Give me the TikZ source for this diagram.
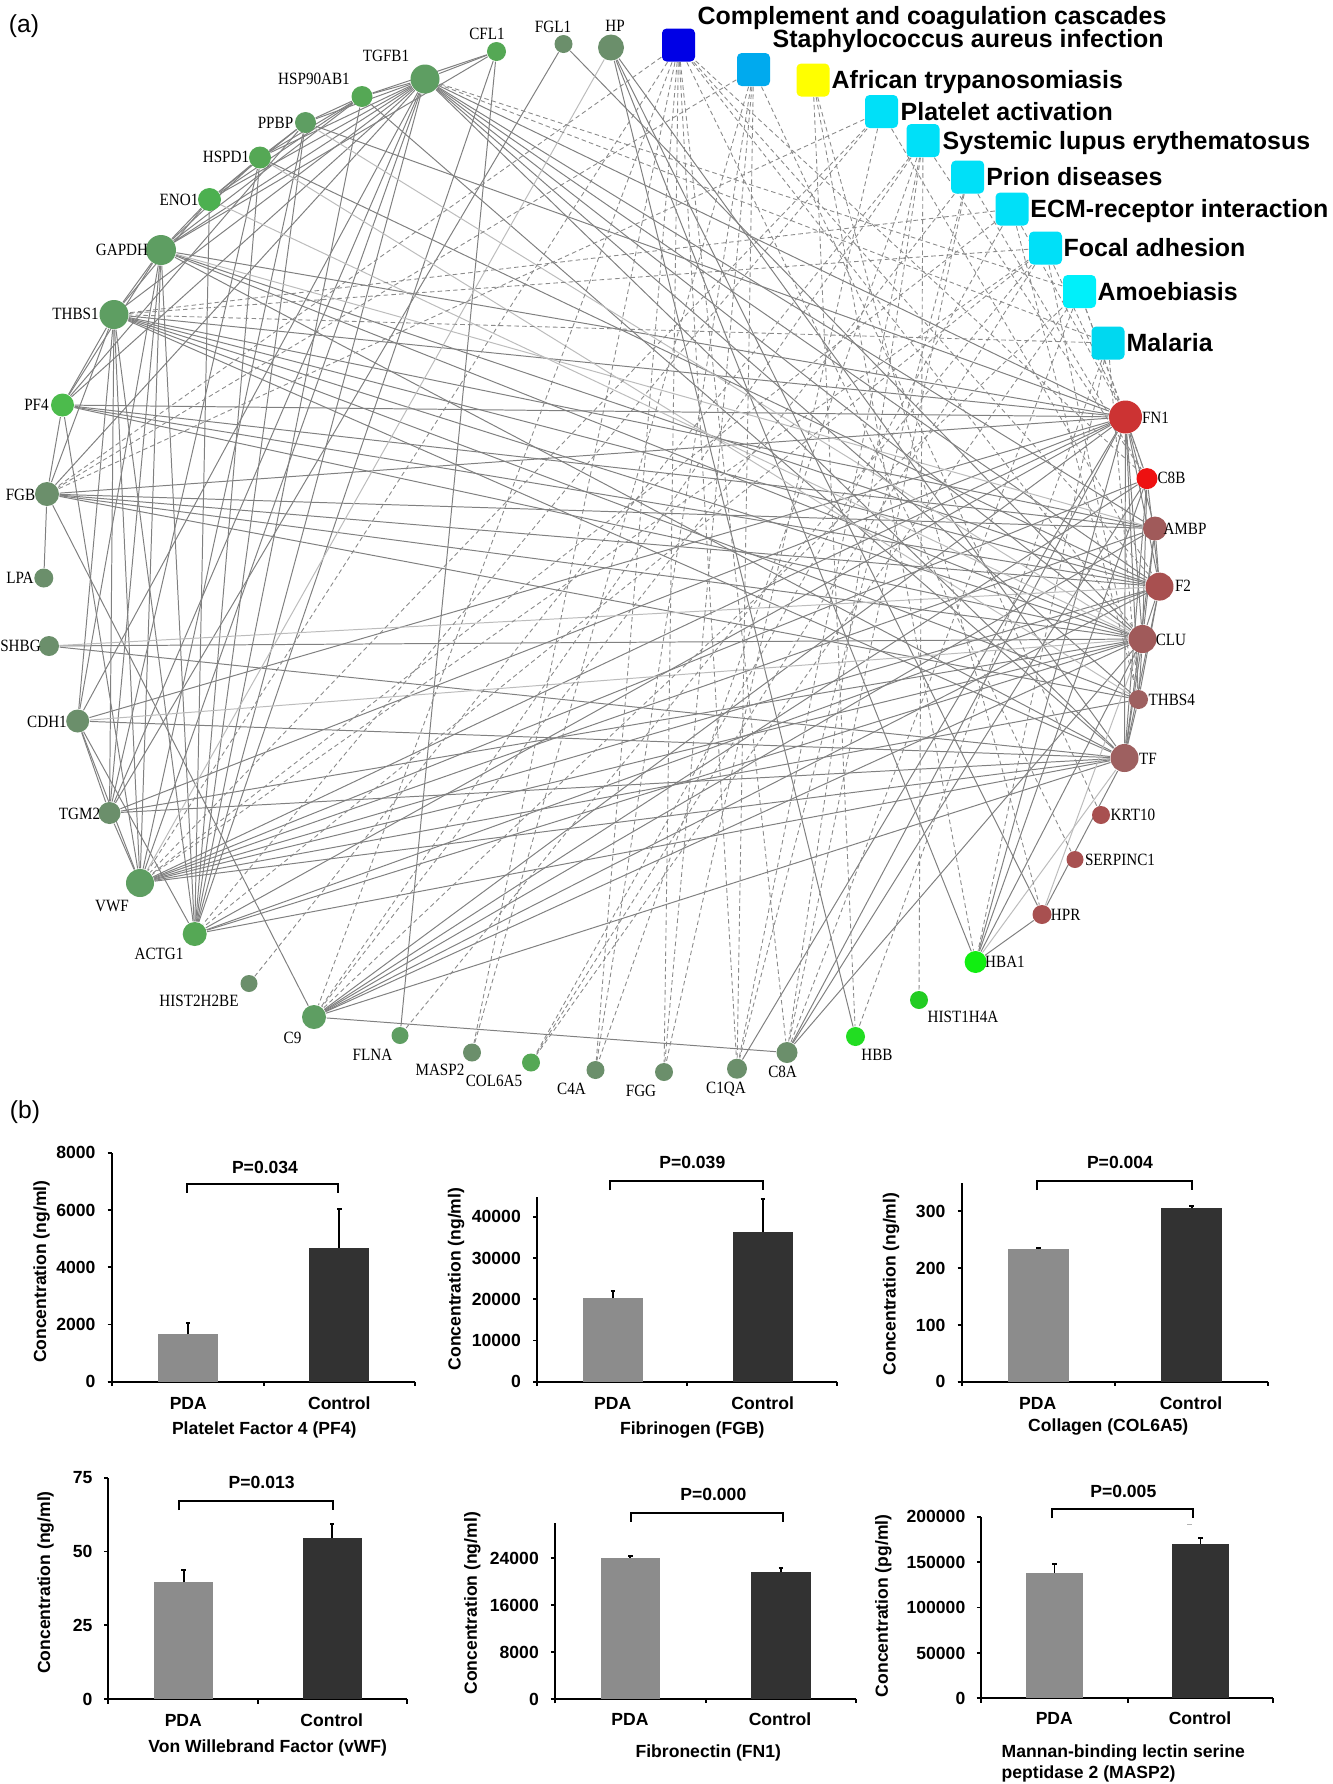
\documentclass[tikz,border=0pt]{standalone}
\usepackage{graphicx}
\usepackage{fontspec}
\setmainfont{Liberation Serif}
\newfontfamily\lsans{Liberation Sans}
\usetikzlibrary{backgrounds}
\definecolor{edgeC}{RGB}{128,128,128}
\definecolor{edgeL}{RGB}{188,188,188}
\definecolor{dashC}{RGB}{138,138,138}
\definecolor{gA}{RGB}{85,168,85}
\definecolor{gB}{RGB}{94,158,98}
\definecolor{gC}{RGB}{107,143,107}
\definecolor{gD}{RGB}{76,176,80}
\definecolor{gE}{RGB}{76,187,76}
\definecolor{gF}{RGB}{34,221,34}
\definecolor{gG}{RGB}{17,238,17}
\definecolor{gH}{RGB}{34,204,34}
\definecolor{rA}{RGB}{204,51,51}
\definecolor{rB}{RGB}{238,17,17}
\definecolor{rC}{RGB}{160,90,90}
\definecolor{rD}{RGB}{168,80,80}
\definecolor{rE}{RGB}{158,96,96}
\definecolor{pDark}{RGB}{0,0,230}
\definecolor{pMid}{RGB}{0,170,238}
\definecolor{pYel}{RGB}{255,255,0}
\definecolor{pCy}{RGB}{0,224,248}
\definecolor{pCy2}{RGB}{0,240,250}
\definecolor{pCy3}{RGB}{0,216,240}
\definecolor{pdaC}{RGB}{140,140,140}
\definecolor{ctlC}{RGB}{50,50,50}
\tikzset{
  gnode/.style={circle, inner sep=0pt, draw=none},
  glabel/.style={inner sep=0pt, anchor=base, font=\fontsize{4.9pt}{5pt}\selectfont},
  pw/.style={rectangle, rounded corners=1.3pt, inner sep=0pt, minimum size=3.3mm, draw=none},
  pwlabel/.style={inner sep=0pt, anchor=base west, font=\lsans\bfseries\fontsize{7.1pt}{8pt}\selectfont},
  ppi/.style={draw=edgeC, line width=0.28pt},
  ppil/.style={draw=edgeL, line width=0.28pt},
  pwedge/.style={draw=dashC, line width=0.25pt, dash pattern=on 1.3pt off 0.9pt},
  axl/.style={line width=0.55pt, black},
  errb/.style={line width=0.55pt, black},
  brk/.style={line width=0.55pt, black},
  ctext/.style={inner sep=0pt, anchor=base, font=\lsans\bfseries\fontsize{5pt}{6pt}\selectfont},
  ylab/.style={inner sep=0pt, rotate=90, font=\lsans\bfseries\fontsize{5pt}{6pt}\selectfont},
  panel/.style={inner sep=0pt, font=\lsans\fontsize{7pt}{8pt}\selectfont},
  pdaf/.style={fill=pdaC},
  ctlf/.style={fill=ctlC},
}
\newcommand\cbar[6]{\fill[#6] (#1,#3) rectangle (#2,#4);
  \draw[errb] ({(#1+#2)/2},#4) -- ({(#1+#2)/2},#5) ({(#1+#2)/2-2.2},#5) -- ({(#1+#2)/2+2.2},#5);}
\newcommand\caxes[6]{\draw[axl] (#2,#5) -- (#4,#5);
  \draw[axl] (#1,{#5+4.3}) -- (#1,#6);
  \draw[axl] (#3,#5) -- (#3,{#5+4.3}) (#4,#5) -- (#4,{#5+4.3});}
\newcommand\cbrk[4]{\draw[brk] (#1,#4) -- (#1,#3) -- (#2,#3) -- (#2,#4);}
\begin{document}
\begin{tikzpicture}[x=0.1mm, y=-0.1mm]
\useasboundingbox (0,0) rectangle (1333,1784);

% ---------- gene nodes ----------
\foreach \n/\x/\y/\d/\c in {
CFL1/496.5/51.5/19/gA, FGL1/563.5/44/18/gC, HP/611/47.5/26/gC, TGFB1/425/79/29/gB,
HSP90AB1/362/96.5/21/gA, PPBP/305.5/122.5/21/gB, HSPD1/260/157.5/22/gA, ENO1/209.5/199.5/23/gD,
GAPDH/161/250/30/gB, THBS1/114/314.5/29/gB, PF4/62.5/405/23/gE, FGB/47/494/24/gC,
LPA/43.8/578/19/gC, SHBG/49/646/20/gC, CDH1/77.7/721/23/gC, TGM2/109.5/813/22/gC,
VWF/140/883/28/gB, ACTG1/194.7/934/24/gA, HIST2H2BE/249/983.5/17/gC, C9/314/1017/24/gB,
FLNA/400/1035.5/17/gB, MASP2/472/1052.5/18/gC, COL6A5/531/1062.5/18/gA, C4A/595.5/1070/18/gC,
FGG/664/1072/18/gC, C1QA/737/1068.7/20/gC, C8A/787/1052.5/21/gC, HBB/855.5/1036.5/19/gF,
HIST1H4A/919/1000/18/gH, HBA1/975.6/962/22/gG, HPR/1042/914.5/19/rD, SERPINC1/1075/859.5/17/rD,
KRT10/1101/815/18/rD, TF/1124.5/758/28/rE, THBS4/1138.5/699.5/19/rE, CLU/1142.5/639/28/rC,
F2/1159.5/586.6/28/rD, AMBP/1155/528.5/24/rC, C8B/1147/478.6/21/rB, FN1/1125.5/417/33/rA}
  \node[gnode, fill=\c, minimum size=\d*0.1mm] (\n) at (\x,\y) {};

% ---------- gene labels ----------
\foreach \n/\x/\y in {
CFL1/487/34, FGL1/553/27, HP/615/26, TGFB1/386/56, HSP90AB1/314/79, PPBP/275.5/123,
HSPD1/226/157, ENO1/179/200, GAPDH/122/250, THBS1/75.5/314, PF4/36.5/405, FGB/20.5/495,
LPA/20/578, SHBG/20.5/646, CDH1/47/722, TGM2/79.5/814, VWF/112/905.7, ACTG1/159/954,
HIST2H2BE/199/1000.7, C9/292.5/1038, FLNA/372.5/1055, MASP2/440/1070, COL6A5/494/1081,
C4A/571.5/1089, FGG/641/1091, C1QA/726/1088, C8A/782.6/1072, HBB/877/1055,
HIST1H4A/963/1016.7, HBA1/1005/961.7, HPR/1065.7/914.4, SERPINC1/1120/860, KRT10/1133/815,
TF/1148/758.6, THBS4/1171.7/699.6, CLU/1171/640, F2/1183/586, AMBP/1185/528.7,
C8B/1171.5/478, FN1/1155.5/418}
  \node[glabel] (l\n) at (\x,{\y+5.7}) {\scalebox{0.88}[1]{\n}};

% ---------- pathway nodes ----------
\node[pw, fill=pDark] (pCCC) at (678.5,45) {};
\node[pw, fill=pMid]  (pSTA) at (753.5,69.5) {};
\node[pw, fill=pYel]  (pAFR) at (813,80) {};
\node[pw, fill=pCy]   (pPLT) at (881.5,111.5) {};
\node[pw, fill=pCy]   (pSLE) at (923,140.5) {};
\node[pw, fill=pCy]   (pPRI) at (967.7,177) {};
\node[pw, fill=pCy]   (pECM) at (1012,209) {};
\node[pw, fill=pCy]   (pFOC) at (1045.5,248) {};
\node[pw, fill=pCy2]  (pAMO) at (1079.5,291.5) {};
\node[pw, fill=pCy3]  (pMAL) at (1108,343) {};

\node[pwlabel] (tCCC) at (697,24.4) {Complement and coagulation cascades};
\node[pwlabel] (tSTA) at (772,47.4) {Staphylococcus aureus infection};
\node[pwlabel] (tAFR) at (831,88.9) {African trypanosomiasis};
\node[pwlabel] (tPLT) at (900,120.4) {Platelet activation};
\node[pwlabel] (tSLE) at (942,149.4) {Systemic lupus erythematosus};
\node[pwlabel] (tPRI) at (985.6,185.9) {Prion diseases};
\node[pwlabel] (tECM) at (1029.7,217.9) {ECM-receptor interaction};
\node[pwlabel] (tFOC) at (1063,256.9) {Focal adhesion};
\node[pwlabel] (tAMO) at (1097,300.4) {Amoebiasis};
\node[pwlabel] (tMAL) at (1126,351.9) {Malaria};

% ---------- edges ----------
\begin{scope}[on background layer]
\fill[white] (0,0) rectangle (1333,1784);
\foreach \a/\b in {
TGFB1/CFL1, TGFB1/HSP90AB1, TGFB1/PPBP, TGFB1/HSPD1, TGFB1/ENO1, TGFB1/GAPDH, TGFB1/THBS1,
TGFB1/PF4, TGFB1/FN1, TGFB1/F2, TGFB1/CLU, TGFB1/TF, TGFB1/VWF, TGFB1/ACTG1, TGFB1/TGM2,
TGFB1/CDH1, TGFB1/THBS4, TGFB1/AMBP, TGFB1/FGB,
CFL1/HSP90AB1, CFL1/GAPDH, CFL1/FLNA, CFL1/ACTG1,
FGL1/TGM2, FGL1/CLU,
HP/HBA1, HP/HBB, HP/HPR, HP/TF,
HSP90AB1/PPBP, HSP90AB1/HSPD1, HSP90AB1/ENO1, HSP90AB1/GAPDH, HSP90AB1/ACTG1, HSP90AB1/TF,
PPBP/PF4, PPBP/FN1, PPBP/VWF, PPBP/HSPD1, PPBP/ENO1, PPBP/ACTG1,
HSPD1/ENO1, HSPD1/GAPDH, HSPD1/F2, HSPD1/ACTG1, HSPD1/TGM2,
ENO1/GAPDH, ENO1/ACTG1, ENO1/THBS1,
GAPDH/THBS1, GAPDH/VWF, GAPDH/ACTG1, GAPDH/TGM2, GAPDH/FN1, GAPDH/F2, GAPDH/CLU, GAPDH/TF,
GAPDH/PF4, GAPDH/CDH1,
THBS1/PF4, THBS1/FGB, THBS1/VWF, THBS1/TGM2, THBS1/ACTG1, THBS1/FN1, THBS1/F2, THBS1/CLU,
THBS1/TF, THBS1/AMBP, THBS1/THBS4, THBS1/CDH1,
PF4/FGB, PF4/FN1, PF4/F2, PF4/CLU, PF4/VWF, PF4/AMBP,
FGB/LPA, FGB/F2, FGB/FN1, FGB/CLU, FGB/AMBP, FGB/C9, FGB/THBS4,
SHBG/CLU, SHBG/TF,
CDH1/TGM2, CDH1/VWF, CDH1/ACTG1, CDH1/TF, CDH1/FN1,
TGM2/FN1, TGM2/CLU, TGM2/TF, TGM2/VWF,
VWF/FN1, VWF/F2, VWF/CLU, VWF/TF, VWF/THBS4, VWF/AMBP, VWF/C8B,
ACTG1/FN1, ACTG1/CLU, ACTG1/TF, ACTG1/F2,
C9/C8A, C9/FN1, C9/F2, C9/CLU, C9/TF, C9/C8B, C9/AMBP,
C8A/FN1, C8A/C8B, C8A/CLU, C1QA/FN1,
FN1/C8B, FN1/AMBP, FN1/F2, FN1/CLU, FN1/THBS4, FN1/TF, FN1/HBA1,
C8B/CLU, C8B/F2, C8B/TF, C8B/HBA1,
AMBP/F2, AMBP/CLU, AMBP/TF, F2/CLU, F2/TF, F2/THBS4,
CLU/TF, CLU/THBS4, CLU/HBA1, THBS4/TF, TF/HPR, HBA1/HPR}
  \draw[ppi] (\a) -- (\b);
\foreach \a/\b in {HP/VWF, ENO1/CLU, GAPDH/AMBP, SHBG/F2, CDH1/CLU, CLU/HPR, TF/HBA1,
PPBP/CLU, HSPD1/THBS4}
  \draw[ppil] (\a) -- (\b);
\foreach \a/\b in {
pCCC/FGB, pCCC/FGG, pCCC/VWF, pCCC/F2, pCCC/SERPINC1, pCCC/C9, pCCC/MASP2, pCCC/C4A,
pCCC/C1QA, pCCC/C8A, pCCC/C8B, pCCC/CLU,
pSTA/FGG, pSTA/FGB, pSTA/C4A, pSTA/C1QA, pSTA/MASP2, pSTA/KRT10,
pAFR/HBB, pAFR/HBA1, pAFR/HPR,
pPLT/FGB, pPLT/FGG, pPLT/VWF, pPLT/F2, pPLT/ACTG1,
pSLE/HIST2H2BE, pSLE/HIST1H4A, pSLE/C4A, pSLE/C1QA, pSLE/C8A, pSLE/C8B, pSLE/C9,
pPRI/C1QA, pPRI/C8A, pPRI/C8B, pPRI/C9,
pECM/FN1, pECM/THBS1, pECM/THBS4, pECM/VWF, pECM/COL6A5,
pFOC/FN1, pFOC/THBS1, pFOC/THBS4, pFOC/VWF, pFOC/COL6A5, pFOC/ACTG1, pFOC/FLNA,
pAMO/FN1, pAMO/COL6A5, pAMO/TGFB1, pAMO/C8A, pAMO/C8B, pAMO/C9,
pMAL/THBS1, pMAL/THBS4, pMAL/TGFB1, pMAL/HBB, pMAL/HBA1}
  \draw[pwedge] (\a) -- (\b);
\end{scope}

% ---------- panel letters ----------
\node[panel] (panA) at (24,26) {(a)};
\node[panel] (panB) at (25,1112) {(b)};

% ---------- chart 1: PF4 ----------
\caxes{111.7}{107.5}{264}{415}{1381.7}{1152.7}
\foreach \v/\yy in {0/1381.7,2000/1324.45,4000/1267.2,6000/1209.95,8000/1152.7}{
  \draw[axl] (107.5,\yy) -- (111.7,\yy);
  \node[ctext, anchor=base east] (aY\v) at (96.2,{\yy+6.2}) {\v};}
\cbar{157.7}{218.3}{1381.7}{1334.3}{1322.7}{pdaf}
\cbar{309.3}{369.3}{1381.7}{1247.7}{1209.3}{ctlf}
\cbrk{186.7}{338.3}{1184}{1192.7}
\node[ctext] (aP) at (265,1173) {P=0.034};
\node[ctext] (aPDA) at (188.3,1409.6) {PDA};
\node[ctext] (aCtl) at (339.3,1409.6) {Control};
\node[ctext] (aT) at (264.3,1434.6) {Platelet Factor 4 (PF4)};
\node[ylab] (aYL) at (41.7,1271.7) {Concentration (ng/ml)};

% ---------- chart 2: FGB ----------
\caxes{537.3}{533.1}{687.3}{837.3}{1381.7}{1196.7}
\foreach \v/\yy in {0/1381.7,10000/1340.45,20000/1299.2,30000/1257.95,40000/1216.7}{
  \draw[axl] (533.1,\yy) -- (537.3,\yy);
  \node[ctext, anchor=base east] (bY\v) at (521.5,{\yy+6.2}) {\v};}
\cbar{582.7}{642.7}{1381.7}{1298.3}{1291}{pdaf}
\cbar{732.7}{792.7}{1381.7}{1231.7}{1199.3}{ctlf}
\cbrk{610}{762.7}{1180.7}{1190}
\node[ctext] (bP) at (692.3,1168.6) {P=0.039};
\node[ctext] (bPDA) at (612.7,1409) {PDA};
\node[ctext] (bCtl) at (762.7,1409) {Control};
\node[ctext] (bT) at (692.3,1434.6) {Fibrinogen (FGB)};
\node[ylab] (bYL) at (456,1279) {Concentration (ng/ml)};

% ---------- chart 3: COL6A5 ----------
\caxes{961.7}{957.5}{1115}{1268.3}{1381.7}{1182.7}
\foreach \v/\yy in {0/1381.7,100/1324.8,200/1267.9,300/1211}{
  \draw[axl] (957.5,\yy) -- (961.7,\yy);
  \node[ctext, anchor=base east] (cY\v) at (946,{\yy+6.2}) {\v};}
\cbar{1007.7}{1069.3}{1381.7}{1249.3}{1248}{pdaf}
\cbar{1161}{1222.3}{1381.7}{1208.3}{1206.3}{ctlf}
\cbrk{1036.7}{1191.7}{1180.7}{1190}
\node[ctext] (cP) at (1120,1168.6) {P=0.004};
\node[ctext] (cPDA) at (1037.7,1409) {PDA};
\node[ctext] (cCtl) at (1191,1409) {Control};
\node[ctext] (cT) at (1108.3,1431.3) {Collagen (COL6A5)};
\node[ylab] (cYL) at (891,1284) {Concentration (ng/ml)};

% ---------- chart 4: vWF ----------
\caxes{108.3}{104.1}{258.3}{406.7}{1699.3}{1477.7}
\foreach \v/\yy in {0/1699.3,25/1625.4,50/1551.5,75/1477.7}{
  \draw[axl] (104.1,\yy) -- (108.3,\yy);
  \node[ctext, anchor=base east] (dY\v) at (93,{\yy+6.2}) {\v};}
\cbar{154}{213.3}{1699.3}{1582.3}{1570}{pdaf}
\cbar{302.7}{361.7}{1699.3}{1537.7}{1524.3}{ctlf}
\cbrk{179}{332.7}{1500.7}{1510}
\node[ctext] (dP) at (261.7,1488.6) {P=0.013};
\node[ctext] (dPDA) at (183.3,1726.3) {PDA};
\node[ctext] (dCtl) at (331.7,1726.3) {Control};
\node[ctext] (dT) at (267.7,1752.3) {Von Willebrand Factor (vWF)};
\node[ylab] (dYL) at (45.7,1582.5) {Concentration (ng/ml)};

% ---------- chart 5: FN1 ----------
\caxes{555}{550.8}{705.7}{856}{1699}{1523.3}
\foreach \v/\yy in {0/1699,8000/1652.1,16000/1605.2,24000/1558.3}{
  \draw[axl] (550.8,\yy) -- (555,\yy);
  \node[ctext, anchor=base east] (eY\v) at (539.5,{\yy+6.2}) {\v};}
\cbar{600.7}{660}{1699}{1557.7}{1555.7}{pdaf}
\cbar{750.7}{810.7}{1699}{1571.7}{1567.7}{ctlf}
\cbrk{631}{783.3}{1512.7}{1521.7}
\node[ctext] (eP) at (713.3,1500.6) {P=0.000};
\node[ctext] (ePDA) at (630,1725.6) {PDA};
\node[ctext] (eCtl) at (780,1725.6) {Control};
\node[ctext] (eT) at (708.3,1757) {Fibronectin (FN1)};
\node[ylab] (eYL) at (472.3,1603.3) {Concentration (ng/ml)};

% ---------- chart 6: MASP2 ----------
\caxes{981}{976.8}{1127.7}{1273.3}{1698.3}{1516.7}
\foreach \v/\yy in {0/1698.3,50000/1652.9,100000/1607.5,150000/1562.1,200000/1516.7}{
  \draw[axl] (976.8,\yy) -- (981,\yy);
  \node[ctext, anchor=base east] (fY\v) at (966,{\yy+6.2}) {\v};}
\cbar{1025.7}{1083.3}{1698.3}{1572.7}{1564.3}{pdaf}
\cbar{1171.7}{1229.3}{1698.3}{1544.3}{1537.7}{ctlf}
\cbrk{1052.3}{1192.7}{1509}{1518.3}
\draw[gray!60, line width=0.4pt] (1187,1524.3) -- (1192,1524.3);
\node[ctext] (fP) at (1123.3,1497) {P=0.005};
\node[ctext] (fPDA) at (1054.3,1724.6) {PDA};
\node[ctext] (fCtl) at (1200,1724.6) {Control};
\node[ctext, anchor=base west] (fT1) at (1001,1757) {Mannan-binding lectin serine};
\node[ctext, anchor=base west] (fT2) at (1001,1778.6) {peptidase 2 (MASP2)};
\node[ylab] (fYL) at (883.3,1605.8) {Concentration (pg/ml)};
\end{tikzpicture}
\end{document}
